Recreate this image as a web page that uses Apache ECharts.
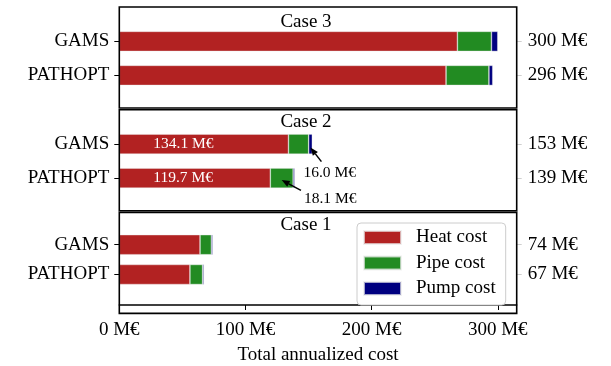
<!DOCTYPE html>
<html>
<head>
<meta charset="utf-8">
<script src="https://cdn.jsdelivr.net/npm/echarts@6/dist/echarts.min.js"></script>
<style>
html,body{margin:0;padding:0;background:#fff;}
#c{width:611px;height:366px;}
</style>
</head>
<body>
<div id="c"></div>
<script>
// ---- data ----
const categories = ['GAMS', 'PATHOPT'];
const caseNames = ['Case 3', 'Case 2', 'Case 1'];
const seriesNames = ['Heat cost', 'Pipe cost', 'Pump cost'];
const heatCost = [[268, 259], [134.1, 119.7], [64, 56]];
const pipeCost = [[27, 34], [16.0, 18.1], [9, 10]];
const pumpCost = [[5, 3], [2.9, 1.2], [1, 1]];
const totalLabels = [['300 M€', '296 M€'], ['153 M€', '139 M€'], ['74 M€', '67 M€']];
const xTicks = [0, 100, 200, 300];
const xMax = 315;
const heatLabels = [null, ['134.1 M€', '119.7 M€'], null];
// annotation: case index, category index, arrow tip x value, text
const annotations = [
  {c: 1, k: 0, tipX: 151.5, text: '16.0 M€'},
  {c: 1, k: 1, tipX: 128.7, text: '18.1 M€'}
];

// ---- layout / style ----
const FONT = 'Liberation Serif';
const colors = ['#b22222', '#228b22', '#000080'];
const L = 119.3, R = 516.7, W = R - L;
const panelTop = [7, 109.7, 212.4];
const panelH = 101;
const gridOff = 17.4, gridH = 68;

const chart = echarts.init(document.getElementById('c'), null, {renderer: 'canvas'});

const grids = [], xAxes = [], yAxes = [], series = [];
for (let i = 0; i < 3; i++) {
  grids.push({left: L, width: W, top: panelTop[i] + gridOff, height: gridH, containLabel: false});
  const isLast = i === 2;
  xAxes.push({
    type: 'value', gridIndex: i, min: 0, max: xMax, interval: 100,
    show: isLast,
    offset: isLast ? (panelTop[i] + panelH) - (panelTop[i] + gridOff + gridH) : 0,
    splitLine: {show: false},
    axisLine: {show: true, lineStyle: {color: '#000', width: 1.5}},
    axisTick: {show: true, length: 5, lineStyle: {color: '#000', width: 1}},
    axisLabel: {
      show: true, margin: 16, color: '#000', fontFamily: FONT, fontSize: 19,
      formatter: v => xTicks.indexOf(v) >= 0 ? v + ' M€' : '',
      showMaxLabel: false
    },
    name: isLast ? 'Total annualized cost' : '',
    nameLocation: 'middle', nameGap: 41,
    nameTextStyle: {color: '#000', fontFamily: FONT, fontSize: 19}
  });
  yAxes.push({
    type: 'category', gridIndex: i, data: categories, inverse: true,
    axisLine: {show: false},
    axisTick: {show: true, alignWithLabel: true, length: 5, lineStyle: {color: '#000', width: 1}},
    axisLabel: {margin: 10, color: '#000', fontFamily: FONT, fontSize: 19}
  });
  yAxes.push({
    type: 'category', gridIndex: i, data: totalLabels[i], inverse: true, position: 'right',
    axisLine: {show: false},
    axisTick: {show: true, alignWithLabel: true, length: 5, lineStyle: {color: '#cfcfcf', width: 1}},
    axisLabel: {margin: 11, color: '#000', fontFamily: FONT, fontSize: 19}
  });
  const vals = [heatCost[i], pipeCost[i], pumpCost[i]];
  for (let s = 0; s < 3; s++) {
    const data = vals[s].map((v, k) => {
      const d = {value: v};
      if (s === 0 && heatLabels[i]) {
        d.label = {show: true, position: 'insideLeft', distance: 34, formatter: heatLabels[i][k],
                   color: '#fff', fontFamily: FONT, fontSize: 15.5};
      }
      return d;
    });
    series.push({
      type: 'bar', name: seriesNames[s], stack: 'case' + i,
      xAxisIndex: i, yAxisIndex: i * 2, barWidth: 20,
      itemStyle: {color: colors[s], borderColor: 'rgba(235,235,235,0.7)', borderWidth: 0.6},
      data: data, animation: false
    });
  }
}

chart.setOption({
  animation: false,
  grid: grids,
  xAxis: xAxes,
  yAxis: yAxes,
  series: series,
  legend: {
    data: seriesNames, orient: 'vertical', left: 357, top: 223,
    itemWidth: 37, itemHeight: 13, itemGap: 6.5,
    padding: [5, 10, 7, 6],
    backgroundColor: '#fff', borderColor: '#cccccc', borderWidth: 1, borderRadius: 4,
    icon: 'rect',
    textStyle: {color: '#000', fontFamily: FONT, fontSize: 19, lineHeight: 19, padding: [0, 0, 0, 10]},
    selectedMode: false
  }
});

// ---- frames, titles, annotations ----
const graphic = [];
const titleOff = [15.5, 12.5, 12.5];
for (let i = 0; i < 3; i++) {
  graphic.push({
    type: 'rect', shape: {x: L, y: panelTop[i], width: W, height: panelH},
    style: {fill: 'none', stroke: '#000', lineWidth: 1.6}, z: 10, silent: true
  });
  const tx = chart.convertToPixel({gridIndex: i}, [148, 0])[0];
  graphic.push({
    type: 'text', x: tx, y: panelTop[i] + titleOff[i],
    style: {text: caseNames[i], fill: '#000', font: '19px "' + FONT + '"', align: 'center', verticalAlign: 'middle'},
    z: 11, silent: true
  });
}
const annOffsets = [
  {tail: [11, 14], text: [-7, 25]},
  {tail: [19.3, 10.3], text: [22.3, 19]}
];
const annDy = [3.5, 2];
annotations.forEach((a, j) => {
  const p = chart.convertToPixel({gridIndex: a.c}, [a.tipX, a.k]);
  const tip = [p[0], p[1] + annDy[j]];
  const o = annOffsets[j];
  const tail = [tip[0] + o.tail[0], tip[1] + o.tail[1]];
  const dx = tip[0] - tail[0], dy = tip[1] - tail[1];
  const len = Math.sqrt(dx * dx + dy * dy);
  const ux = dx / len, uy = dy / len;
  const hl = 8, hw = 3.2;
  const base = [tip[0] - ux * hl, tip[1] - uy * hl];
  graphic.push({
    type: 'line', shape: {x1: tail[0], y1: tail[1], x2: base[0], y2: base[1]},
    style: {stroke: '#000', lineWidth: 1.5}, z: 12, silent: true
  });
  graphic.push({
    type: 'polygon',
    shape: {points: [tip, [base[0] - uy * hw, base[1] + ux * hw], [base[0] + uy * hw, base[1] - ux * hw]]},
    style: {fill: '#000'}, z: 12, silent: true
  });
  graphic.push({
    type: 'text', x: tip[0] + o.text[0], y: tip[1] + o.text[1],
    style: {text: a.text, fill: '#000', font: '15.5px "' + FONT + '"', align: 'left', verticalAlign: 'middle'},
    z: 12, silent: true
  });
});
chart.setOption({graphic: graphic});
</script>
</body>
</html>
